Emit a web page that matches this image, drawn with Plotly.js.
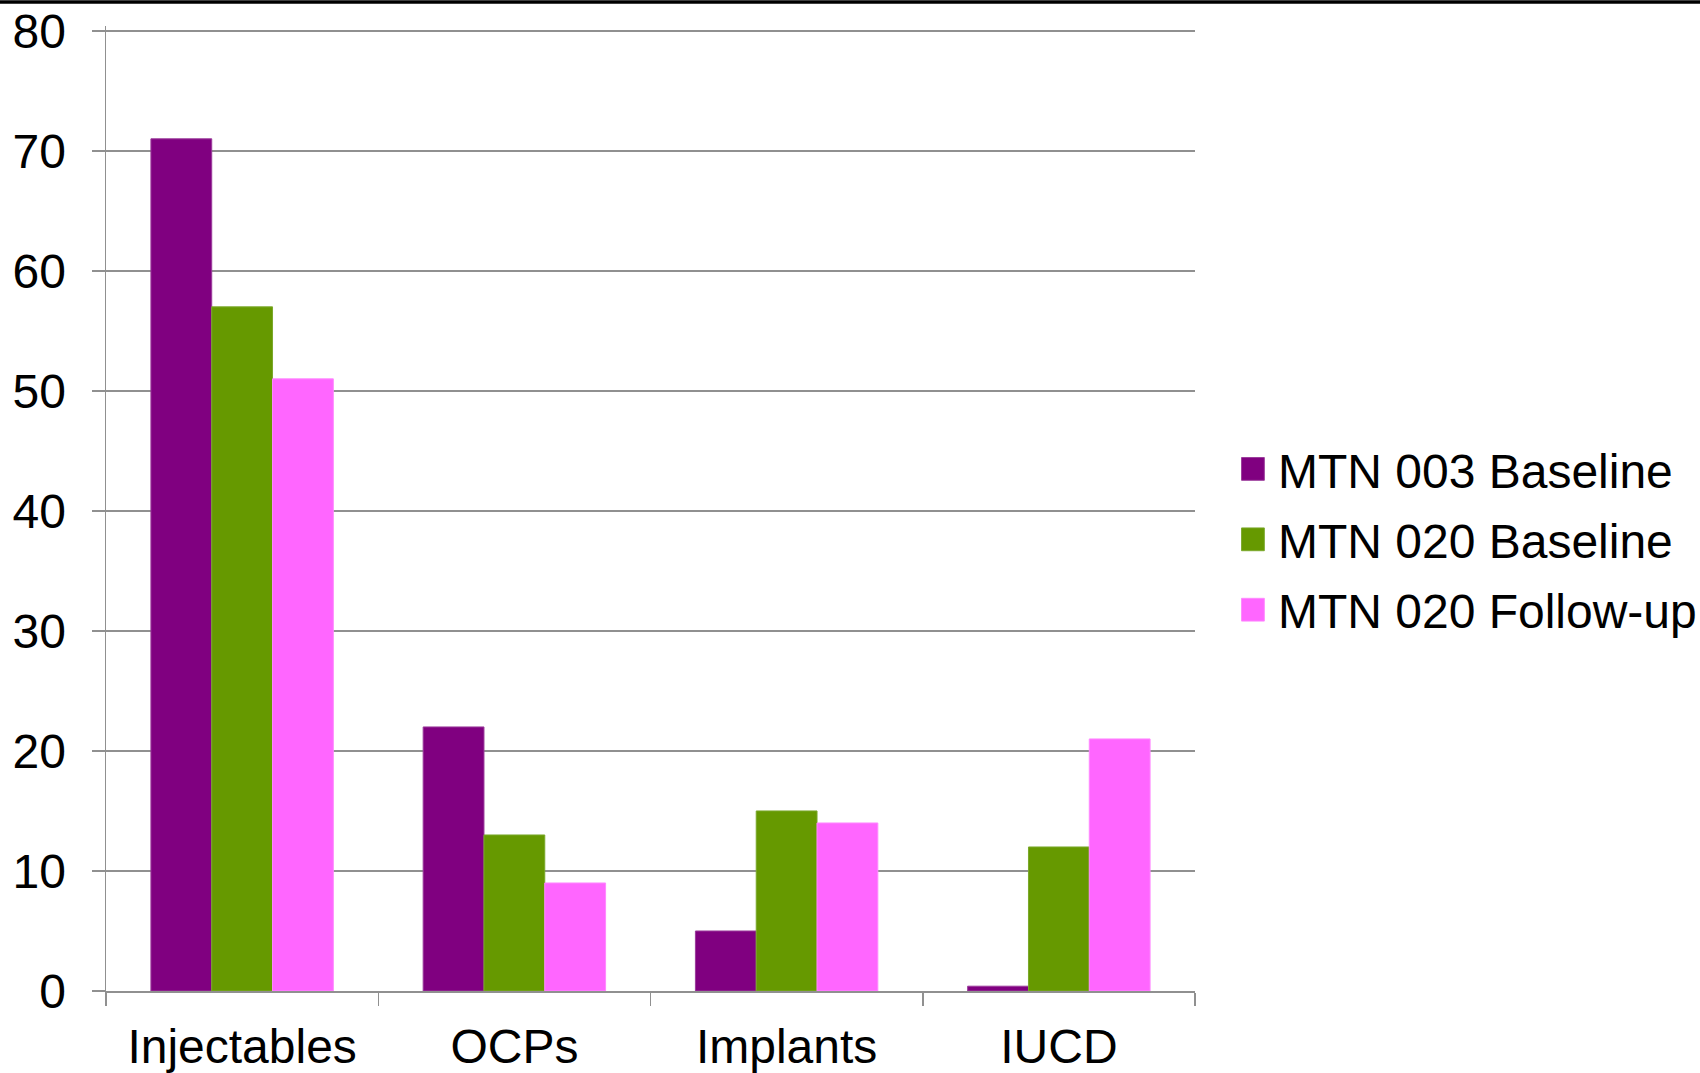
<!DOCTYPE html>
<html><head><meta charset="utf-8">
<script src="https://cdn.plot.ly/plotly-3.0.1.min.js"></script>
<style>html,body{margin:0;padding:0;background:#fff;}#chart{width:1700px;height:1073px;}</style>
</head><body><div id="chart"></div>
<script>
const categories = ["Injectables", "OCPs", "Implants", "IUCD"];
const seriesNames = ["MTN 003 Baseline", "MTN 020 Baseline", "MTN 020 Follow-up"];
const mtn003Baseline = [71, 22, 5, 0.4];
const mtn020Baseline = [57, 13, 15, 12];
const mtn020Followup = [51, 9, 14, 21];
const yTicks = [0, 10, 20, 30, 40, 50, 60, 70, 80];

const colors = ["#800080", "#669900", "#FF66FF"];
const lineColors = ["#9a3a9a", "#7aa82a", "#ff88ff"];
const vals = [mtn003Baseline, mtn020Baseline, mtn020Followup];
const traces = vals.map((v, i) => ({
  type: "bar", x: categories, y: v, name: seriesNames[i], legendgroup: "g" + i,
  marker: {color: colors[i], line: {color: lineColors[i], width: 1}}
}));
const font = "Liberation Sans, Arial, sans-serif";
const layout = {
  width: 1700, height: 1073,
  margin: {l: 106, r: 505, t: 26, b: 82},
  paper_bgcolor: "#fff", plot_bgcolor: "#fff",
  barmode: "group", bargap: 0.33, bargroupgap: 0,
  font: {family: font, color: "#000", size: 48},
  showlegend: true,
  legend: {xref: "container", yref: "container", x: 0.7282, xanchor: "left", y: 0.497, yanchor: "middle", traceorder: "grouped",
    font: {size: 48, family: font}, tracegroupgap: 5, itemwidth: 30, bgcolor: "rgba(0,0,0,0)"},
  xaxis: {type: "category", showline: true, linecolor: "#909090", linewidth: 1.5,
    ticks: "outside", tickson: "boundaries", ticklen: 13, tickcolor: "#909090", tickwidth: 1.5,
    ticklabelstandoff: 13,
    tickfont: {size: 48, family: font}, showgrid: false, zeroline: false, fixedrange: true},
  yaxis: {range: [0, 80.4], tickvals: yTicks, showline: true, linecolor: "#909090", linewidth: 1.5,
    ticks: "outside", ticklen: 13, tickcolor: "#909090", tickwidth: 1.5,
    ticklabelstandoff: 16,
    showgrid: true, gridcolor: "#909090", gridwidth: 1.5, zeroline: false,
    tickfont: {size: 48, family: font}},
  shapes: [{type: "line", xref: "paper", yref: "paper",
    x0: -0.2, x1: 1.6, y0: 1.0249, y1: 1.0249, line: {color: "#000", width: 3.5}}]
};
Plotly.newPlot("chart", traces, layout, {displayModeBar: false, staticPlot: true}).then(gd => {
  gd.querySelectorAll(".legend .legendpoints path").forEach(p => {
    const t = p.getAttribute("transform") || "";
    p.setAttribute("transform", t + " translate(-5,0) scale(1.9)");
    p.style.strokeWidth = "0.5px";
  });
});
</script></body></html>
